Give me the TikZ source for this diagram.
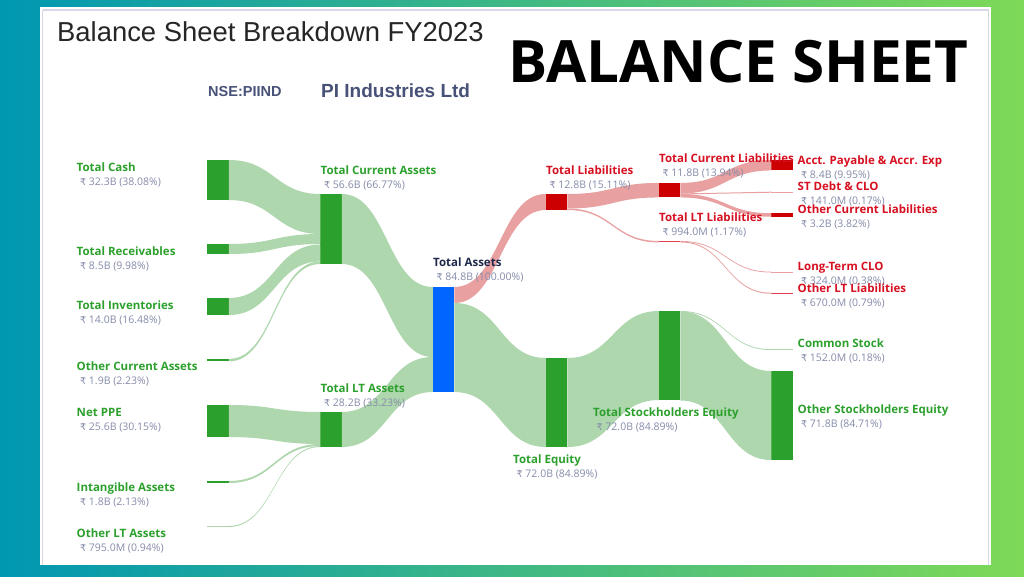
\documentclass[tikz,border=0pt]{standalone}
\usepackage{fontspec}
\setmainfont{Open Sans}
\newfontfamily\arialfont{Liberation Sans}
\newfontfamily\rupeefont{DejaVu Sans}
\usetikzlibrary{calc}
\definecolor{barGreen}{RGB}{44,160,44}
\definecolor{bandGreen}{RGB}{174,215,174}
\definecolor{barRed}{RGB}{204,0,0}
\definecolor{bandRed}{RGB}{232,160,160}
\definecolor{barBlue}{RGB}{0,102,255}
\definecolor{valueGrey}{RGB}{134,140,170}
\definecolor{titleBlue}{RGB}{72,82,120}
\definecolor{labelDark}{RGB}{30,40,75}
\definecolor{labelRed}{RGB}{214,16,32}
\definecolor{panelEdge}{RGB}{214,216,232}
\definecolor{edgeTeal}{RGB}{0,151,178}
\definecolor{edgeLime}{RGB}{126,217,87}
\newcommand{\flow}[6]{%
  \coordinate (fa) at ($(#2.north east)+(0,#3)$);
  \coordinate (fb) at ($(#4.north west)+(0,#5)$);
  \fill [#1] (fa) .. controls ($(fa)+(45.5,0)$) and ($(fb)+(-45.5,0)$) .. (fb)
    -- ($(fb)+(0,#6)$) .. controls ($(fb)+(-45.5,#6)$) and ($(fa)+(45.5,#6)$) .. ($(fa)+(0,#6)$) -- cycle;
}
\newcommand{\val}[1]{\\{\color{valueGrey}\mdseries\fontsize{10.5}{14}\selectfont\hspace*{3.5pt}{\rupeefont\fontsize{9.5}{14}\selectfont ₹} #1}}
\begin{document}
\begin{tikzpicture}[
    x=1pt,y=-1pt,
    bar/.style={%
      rectangle,
      inner sep=0pt,
      outer sep=0pt,
      minimum width=21.5pt,
    },
    greenBar/.style={bar,fill=barGreen},
    redBar/.style={bar,fill=barRed},
    thinRedBar/.style={bar,fill=labelRed!80},
    paleGreenBar/.style={bar,fill=bandGreen},
    paleRedBar/.style={bar,fill=bandRed},
    greenBand/.style={fill=bandGreen},
    redBand/.style={fill=bandRed},
    lbl/.style={%
      anchor=north west,
      inner sep=0pt,
      align=left,
      font=\fontsize{11.5}{14}\selectfont\bfseries,
    },
    greenLbl/.style={lbl,text=barGreen},
    redLbl/.style={lbl,text=labelRed},
  ]

    \useasboundingbox (0,0) rectangle (1024,576);
    \shade [left color=edgeTeal,right color=edgeLime] (0,0) rectangle (1024,576);
    \fill [white] (40,7) rectangle (991,565);
    \draw [panelEdge,line width=1.5pt] (42.5,10) -- (988.5,10) (42.5,10) -- (42.5,565) (988.5,10) -- (988.5,565);

    \node [anchor=west,inner sep=0pt,font=\arialfont\fontsize{27.4}{30}\selectfont,text=black!85] (sheetTitle) at (57,32) {Balance Sheet Breakdown FY2023};
    \node [anchor=west,inner sep=0pt,font=\fontsize{58.4}{64}\selectfont\bfseries,text=black] (bigTitle) at (508,61.5) {BALANCE SHEET};
    \node [anchor=west,inner sep=0pt,font=\arialfont\fontsize{14.5}{16}\selectfont\bfseries,text=titleBlue] (ticker) at (208,92) {NSE:PIIND};
    \node [anchor=west,inner sep=0pt,font=\arialfont\fontsize{19}{21}\selectfont\bfseries,text=titleBlue] (company) at (321,91) {PI Industries Ltd};

    \node [greenBar,minimum height=40pt] (cash) at (218,180) {};
    \node [greenBar,minimum height=10pt] (recv) at (218,249) {};
    \node [greenBar,minimum height=17pt] (inv) at (218,306.5) {};
    \node [greenBar,minimum height=2.5pt] (otherCur) at (218,360.2) {};
    \node [greenBar,minimum height=32pt] (ppe) at (218,421) {};
    \node [greenBar,minimum height=2pt] (intang) at (218,482) {};
    \node [paleGreenBar,minimum height=1pt] (otherLT) at (218,526.5) {};
    \node [greenBar,minimum height=70pt] (curAssets) at (331,229) {};
    \node [greenBar,minimum height=35pt] (ltAssets) at (331,429.5) {};
    \node [bar,fill=barBlue,minimum height=105pt] (assets) at (443.5,339.5) {};
    \node [redBar,minimum height=16pt] (liab) at (556.5,202) {};
    \node [greenBar,minimum height=89pt] (equity) at (556.5,402.5) {};
    \node [redBar,minimum height=14.5pt] (curLiab) at (669.5,190.2) {};
    \node [thinRedBar,minimum height=1.5pt] (ltLiab) at (669.5,241.7) {};
    \node [greenBar,minimum height=89pt] (stock) at (669.5,355.5) {};
    \node [redBar,minimum height=10.5pt] (payable) at (782,165.2) {};
    \node [paleRedBar,minimum height=1pt] (stDebt) at (782,192.2) {};
    \node [redBar,minimum height=3.5pt] (otherCurLiab) at (782,215) {};
    \node [paleRedBar,minimum height=1pt] (ltClo) at (782,272.2) {};
    \node [thinRedBar,minimum height=1.5pt] (otherLTLiab) at (782,293.5) {};
    \node [paleGreenBar,minimum height=1pt] (common) at (782,349.7) {};
    \node [greenBar,minimum height=89pt] (otherStock) at (782,415.5) {};

    \flow{greenBand}{cash}{0}{curAssets}{0}{40}
    \flow{greenBand}{recv}{0}{curAssets}{40}{10}
    \flow{greenBand}{inv}{0}{curAssets}{50.5}{17}
    \flow{greenBand}{otherCur}{0}{curAssets}{67.5}{2.5}
    \flow{greenBand}{ppe}{0}{ltAssets}{0}{32}
    \flow{greenBand}{intang}{0}{ltAssets}{32}{2}
    \flow{greenBand}{otherLT}{0}{ltAssets}{34}{1}
    \flow{greenBand}{curAssets}{0}{assets}{0}{70}
    \flow{greenBand}{ltAssets}{0}{assets}{70}{35}
    \flow{greenBand}{assets}{16}{equity}{0}{89}
    \flow{redBand}{assets}{0}{liab}{0}{16}
    \flow{redBand}{liab}{0}{curLiab}{0}{14.5}
    \flow{redBand}{liab}{14.5}{ltLiab}{0}{1.5}
    \flow{redBand}{curLiab}{0}{payable}{0}{10.5}
    \flow{redBand}{curLiab}{10.5}{stDebt}{0}{1}
    \flow{redBand}{curLiab}{11}{otherCurLiab}{0}{3.5}
    \flow{redBand}{ltLiab}{0}{ltClo}{0}{0.8}
    \flow{redBand}{ltLiab}{0.5}{otherLTLiab}{0}{1}
    \flow{greenBand}{equity}{0}{stock}{0}{89}
    \flow{greenBand}{stock}{0}{common}{0}{0.8}
    \flow{greenBand}{stock}{0.5}{otherStock}{0}{89}

    \node [greenLbl] (cashLbl) at (76.5,163) {Total Cash\val{32.3B (38.08\%)}};
    \node [greenLbl] (recvLbl) at (76.5,247) {Total Receivables\val{8.5B (9.98\%)}};
    \node [greenLbl] (invLbl) at (76.5,301) {Total Inventories\val{14.0B (16.48\%)}};
    \node [greenLbl] (otherCurLbl) at (76.5,362) {Other Current Assets\val{1.9B (2.23\%)}};
    \node [greenLbl] (ppeLbl) at (76.5,408) {Net PPE\val{25.6B (30.15\%)}};
    \node [greenLbl] (intangLbl) at (76.5,483) {Intangible Assets\val{1.8B (2.13\%)}};
    \node [greenLbl] (otherLTLbl) at (76.5,529) {Other LT Assets\val{795.0M (0.94\%)}};
    \node [greenLbl] (curAssetsLbl) at (320.5,166) {Total Current Assets\val{56.6B (66.77\%)}};
    \node [greenLbl] (ltAssetsLbl) at (320.5,384) {Total LT Assets\val{28.2B (33.23\%)}};
    \node [lbl,text=labelDark] (assetsLbl) at (433,258) {Total Assets\val{84.8B (100.00\%)}};
    \node [redLbl] (liabLbl) at (546,166) {Total Liabilities\val{12.8B (15.11\%)}};
    \node [greenLbl] (equityLbl) at (513,455) {Total Equity\val{72.0B (84.89\%)}};
    \node [greenLbl] (stockLbl) at (593,408) {Total Stockholders Equity\val{72.0B (84.89\%)}};
    \node [redLbl] (curLiabLbl) at (659,154) {Total Current Liabilities\val{11.8B (13.94\%)}};
    \node [redLbl] (ltLiabLbl) at (659,213) {Total LT Liabilities\val{994.0M (1.17\%)}};
    \node [redLbl] (payableLbl) at (797.5,156) {Acct. Payable \& Accr. Exp\val{8.4B (9.95\%)}};
    \node [redLbl] (stDebtLbl) at (797.5,182) {ST Debt \& CLO\val{141.0M (0.17\%)}};
    \node [redLbl] (otherCurLiabLbl) at (797.5,205) {Other Current Liabilities\val{3.2B (3.82\%)}};
    \node [redLbl] (ltCloLbl) at (797.5,262) {Long-Term CLO\val{324.0M (0.38\%)}};
    \node [redLbl] (otherLTLiabLbl) at (797.5,284) {Other LT Liabilities\val{670.0M (0.79\%)}};
    \node [greenLbl] (commonLbl) at (797.5,339) {Common Stock\val{152.0M (0.18\%)}};
    \node [greenLbl] (otherStockLbl) at (797.5,405) {Other Stockholders Equity\val{71.8B (84.71\%)}};
    \end{tikzpicture}
\end{document}
